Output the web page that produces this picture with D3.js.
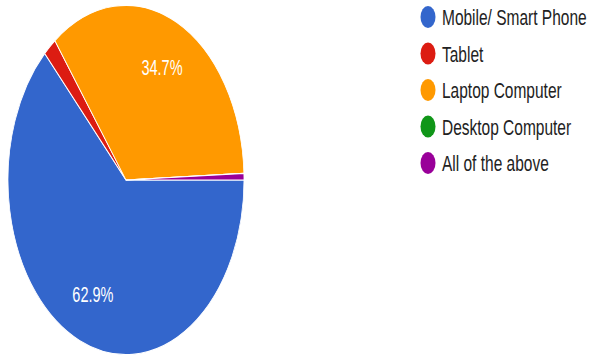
<!DOCTYPE html>
<html><head><meta charset="utf-8">
<script src="https://cdn.jsdelivr.net/npm/d3@7"></script>
<style>html,body{margin:0;padding:0;background:#fff;}svg{display:block;}</style>
</head><body>
<svg id="c" width="590" height="360"></svg>
<script>
const categories = ["Mobile/ Smart Phone", "Tablet", "Laptop Computer", "Desktop Computer", "All of the above"];
const values = [62.9, 1.8, 34.7, 0, 0.6];
const colors = ["#3366cc", "#dc1c12", "#ff9900", "#109618", "#990099"];
const labels = ["62.9%", "", "34.7%", "", ""];

const sy = 1.48;
const svg = d3.select("#c");
const g = svg.append("g").attr("transform", `scale(1,${sy})`);
const cx = 126, cy = 180 / sy, r = 118;

const pie = d3.pie().sort(null).value(d => d)
  .startAngle(Math.PI / 2).endAngle(Math.PI / 2 + 2 * Math.PI);
const arcs = pie(values);
const arc = d3.arc().innerRadius(0).outerRadius(r);
const labelArc = d3.arc().innerRadius(84).outerRadius(84);

const pg = g.append("g").attr("transform", `translate(${cx},${cy})`);
pg.selectAll("path").data(arcs).join("path")
  .attr("d", arc)
  .attr("fill", (d, i) => colors[i])
  .attr("stroke", "#fff")
  .attr("stroke-width", 0.8);

pg.selectAll("text").data(arcs).join("text")
  .attr("transform", d => `translate(${labelArc.centroid(d)})`)
  .attr("text-anchor", "middle")
  .attr("dominant-baseline", "central")
  .attr("fill", "#fff")
  .attr("font-family", "Liberation Sans, Arial, sans-serif")
  .attr("font-size", 14.5)
  .text((d, i) => labels[i]);

const legendY = d3.scalePoint().domain(categories).range([17 / sy, 163 / sy]);
const lg = g.append("g");
const items = lg.selectAll("g").data(categories).join("g")
  .attr("transform", d => `translate(428,${legendY(d)})`);
items.append("circle").attr("r", 7.5).attr("fill", (d, i) => colors[i]);
items.append("text")
  .attr("x", 14)
  .attr("dominant-baseline", "central")
  .attr("fill", "#222")
  .attr("font-family", "Liberation Sans, Arial, sans-serif")
  .attr("font-size", 15.5)
  .text(d => d);
</script>
</body></html>
